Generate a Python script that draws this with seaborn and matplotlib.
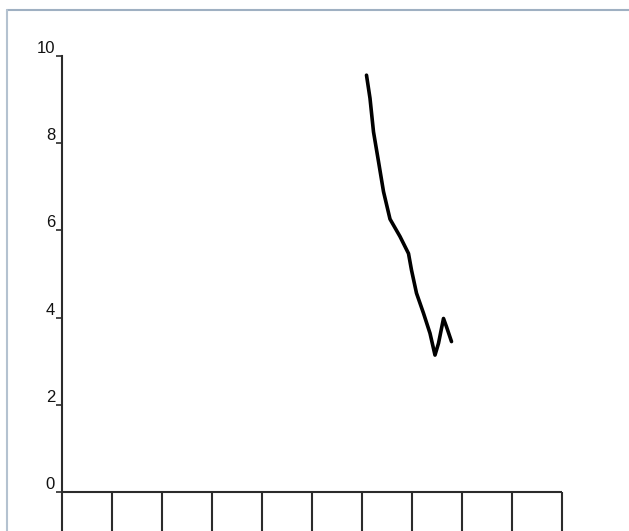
import matplotlib
matplotlib.use("Agg")
import matplotlib.pyplot as plt
from matplotlib.lines import Line2D
import seaborn as sns
import pandas as pd

# Traced pen stroke (x in grid cells, y in value units)
stroke_x = [6.09, 6.16, 6.23, 6.33, 6.43, 6.56, 6.76, 6.93, 6.99, 7.09,
            7.23, 7.36, 7.46, 7.53, 7.63, 7.69, 7.79]
stroke_y = [9.56, 9.03, 8.26, 7.58, 6.89, 6.26, 5.86, 5.47, 5.09, 4.56,
            4.10, 3.64, 3.14, 3.41, 3.98, 3.79, 3.45]

y_ticks = [0, 2, 4, 6, 8, 10]
y_tick_labels = ["0", "2", "4", "6", "8", "10"]
cell_edges = [0, 1, 2, 3, 4, 5, 6, 7, 8, 9, 10]

sns.set_style("white")
plt.rcParams["font.family"] = ["Liberation Sans", "DejaVu Sans"]

W, H, DPI = 629, 531, 100
fig = plt.figure(figsize=(W / DPI, H / DPI), dpi=DPI)
fig.patch.set_facecolor("white")

# axes: left edge at x=62px, top at y=56px, reaching the right and bottom edges
left_px, top_px = 62, 56
ax = fig.add_axes([left_px / W, 0, 1 - left_px / W, 1 - top_px / H])
ax.set_facecolor("white")

px_per_x = 50.0
px_per_y = (492 - 56) / 10.0
ax.set_xlim(0, (W - left_px) / px_per_x)
ax.set_ylim(-(H - 492) / px_per_y, 10)

df = pd.DataFrame({"x": stroke_x, "y": stroke_y})
sns.lineplot(data=df, x="x", y="y", sort=False, estimator=None,
             color="black", linewidth=2.6, ax=ax)
for ln in ax.lines:
    ln.set_solid_joinstyle("round")
    ln.set_solid_capstyle("round")

axis_col = "#2b2b2b"
# baseline and the cell dividers hanging below it
ax.hlines(0, cell_edges[0], cell_edges[-1], color=axis_col, linewidth=1.5)
ax.vlines(cell_edges[1:], ax.get_ylim()[0], 0, color=axis_col, linewidth=1.5)

for side in ["top", "right", "bottom"]:
    ax.spines[side].set_visible(False)
ax.spines["left"].set_color(axis_col)
ax.spines["left"].set_linewidth(1.5)

ax.set_xticks([])
ax.set_yticks(y_ticks)
ax.set_yticklabels(y_tick_labels)
ax.tick_params(axis="y", direction="out", length=4, width=1.2, color=axis_col,
               pad=1, labelsize=12, labelcolor="#111111", left=True)
for lab in ax.get_yticklabels():
    lab.set_verticalalignment("bottom")
ax.set_xlabel("")
ax.set_ylabel("")

# window frame lines along top and left
fig.add_artist(Line2D([7 / W, 1], [1 - 9.5 / H, 1 - 9.5 / H],
                      transform=fig.transFigure, color="#9fb0c2", linewidth=1.5))
fig.add_artist(Line2D([7 / W, 7 / W], [0, 1 - 9.5 / H],
                      transform=fig.transFigure, color="#b4c2d0", linewidth=1.5))

fig.savefig("out.png", dpi=DPI, facecolor="white")
